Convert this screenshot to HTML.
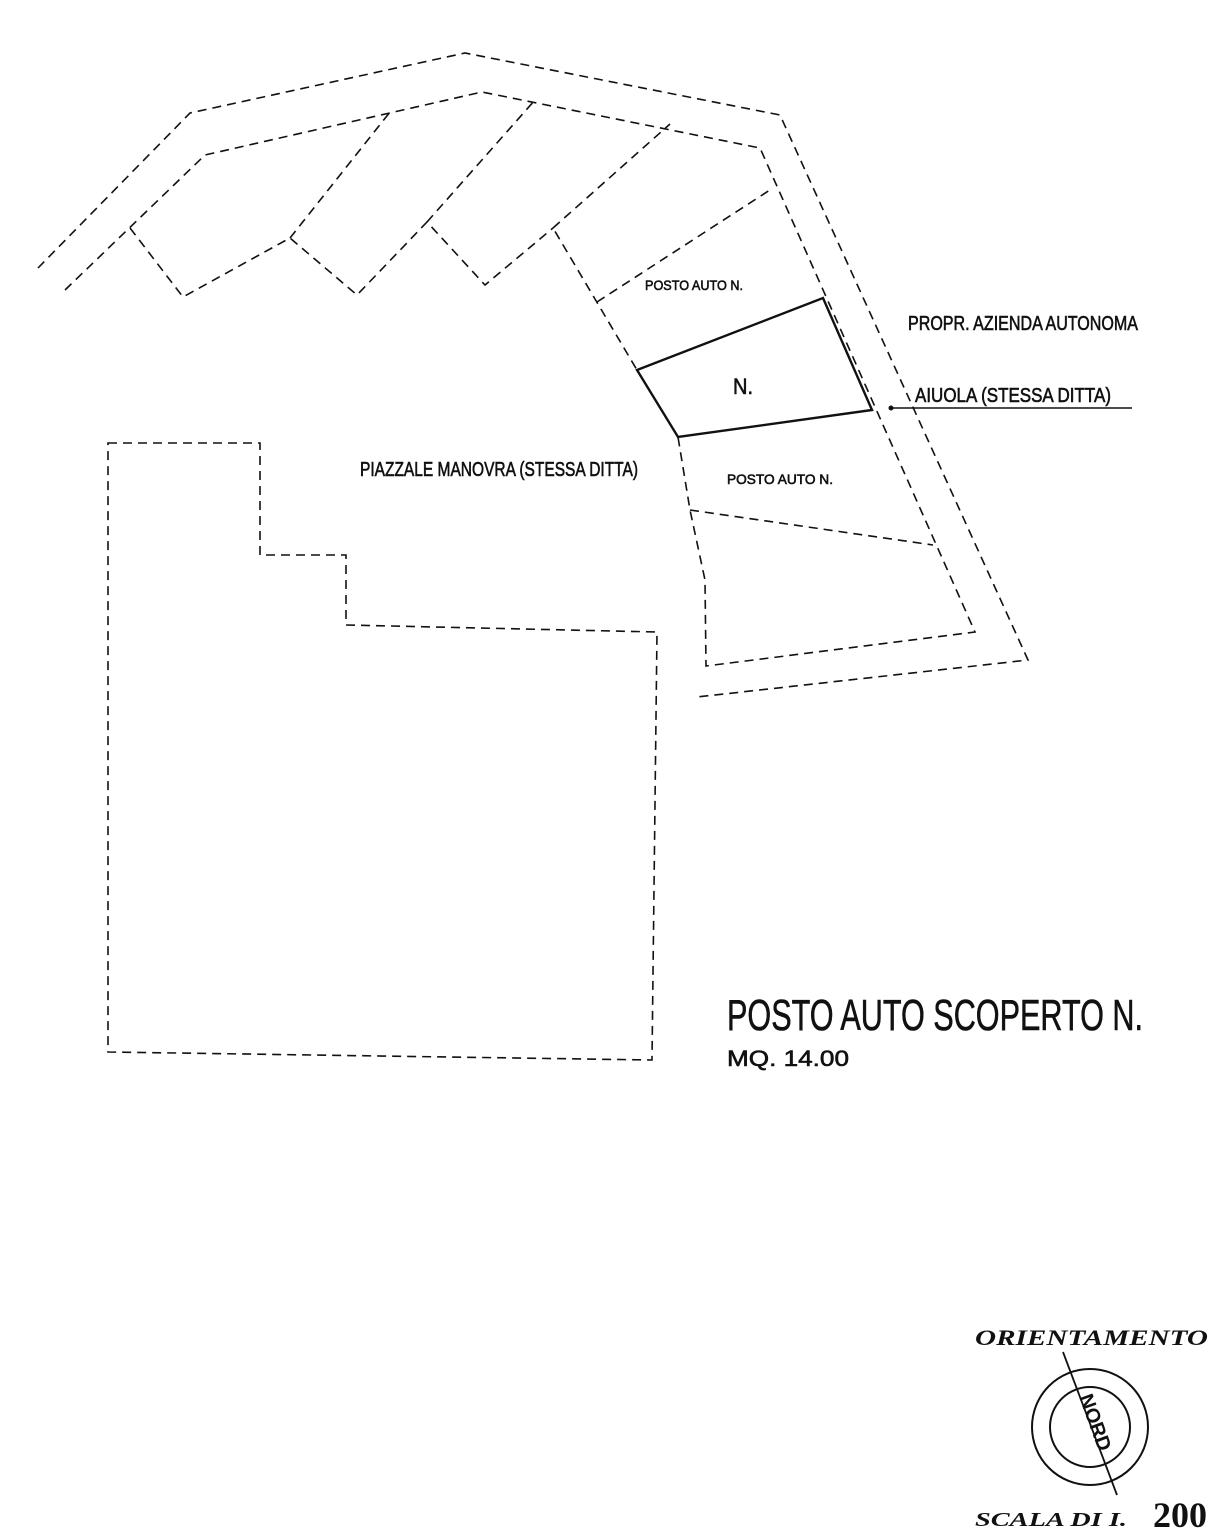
<!DOCTYPE html>
<html><head><meta charset="utf-8"><style>
html,body{margin:0;padding:0;background:#fff;}
svg{display:block;}
.d{fill:none;stroke:#111;stroke-width:1.6;stroke-dasharray:9,6;}
.s{fill:none;stroke:#111;stroke-width:2.4;}
.t{font-family:"Liberation Sans Narrow","Liberation Sans",sans-serif;fill:#111;stroke:#111;stroke-width:0.6;}
</style></head><body>
<svg width="1218" height="1535" viewBox="0 0 1218 1535" xmlns="http://www.w3.org/2000/svg">
<polyline class="d" points="38,268 190,113 465,53 780,115 1028,660 697,697"/>
<polyline class="d" points="65,290 205,155 482,92 760,148 975,632 706,666 705,580 690,510 678,437 637,370 553,228"/>
<polyline class="d" points="130,228 183,297 290,238 357,295 427,222 485,285 553,228"/>
<line class="d" x1="290" y1="238" x2="390" y2="112"/>
<line class="d" x1="427" y1="222" x2="535" y2="100"/>
<line class="d" x1="553" y1="228" x2="670" y2="124"/>
<line class="d" x1="597" y1="302" x2="773" y2="188"/>
<line class="d" x1="690" y1="510" x2="933" y2="545"/>
<polygon class="s" points="637,370 823,298 872,410 678,437"/>
<line x1="890" y1="408" x2="1132" y2="408" stroke="#111" stroke-width="1.6"/>
<circle cx="891" cy="408" r="2.5" fill="#111"/>
<polygon class="d" points="108,443 260,443 260,555 346,555 346,625 657,632 652,1060 108,1052"/>
<text class="t" x="645" y="290" font-size="14" textLength="98" lengthAdjust="spacingAndGlyphs">POSTO AUTO N.</text>
<text class="t" x="733" y="394" font-size="22" textLength="20" lengthAdjust="spacingAndGlyphs">N.</text>
<text class="t" x="360" y="476" font-size="20" textLength="278" lengthAdjust="spacingAndGlyphs">PIAZZALE MANOVRA (STESSA DITTA)</text>
<text class="t" x="727" y="484" font-size="14" textLength="106" lengthAdjust="spacingAndGlyphs">POSTO AUTO N.</text>
<text class="t" x="908" y="330" font-size="20" textLength="230" lengthAdjust="spacingAndGlyphs">PROPR. AZIENDA AUTONOMA</text>
<text class="t" x="915" y="402" font-size="20" textLength="196" lengthAdjust="spacingAndGlyphs">AIUOLA (STESSA DITTA)</text>
<text class="t" x="727" y="1030" font-size="44" textLength="416" lengthAdjust="spacingAndGlyphs" stroke-width="1.2">POSTO AUTO SCOPERTO N.</text>
<text class="t" x="727" y="1066" font-size="22" textLength="122" lengthAdjust="spacingAndGlyphs">MQ. 14.00</text>
<text x="975" y="1345" font-family="Liberation Serif,serif" font-style="italic" font-weight="bold" font-size="22" textLength="233" lengthAdjust="spacingAndGlyphs" fill="#111">ORIENTAMENTO</text>
<circle cx="1090" cy="1427" r="58" fill="none" stroke="#111" stroke-width="2"/>
<circle cx="1090" cy="1427" r="40" fill="none" stroke="#111" stroke-width="2"/>
<line x1="1063" y1="1352" x2="1117" y2="1495" stroke="#111" stroke-width="1.8"/>
<text x="0" y="0" font-family="Liberation Sans,sans-serif" font-weight="bold" font-size="20" fill="#111" transform="translate(1079,1397) rotate(70)">NORD</text>
<text x="975" y="1526" font-family="Liberation Serif,serif" font-style="italic" font-weight="bold" font-size="20" textLength="152" lengthAdjust="spacingAndGlyphs" fill="#111">SCALA DI I.</text>
<text x="1153" y="1527" font-family="Liberation Serif,serif" font-weight="bold" font-size="36" textLength="54" lengthAdjust="spacingAndGlyphs" fill="#111">200</text>
</svg>
</body></html>
